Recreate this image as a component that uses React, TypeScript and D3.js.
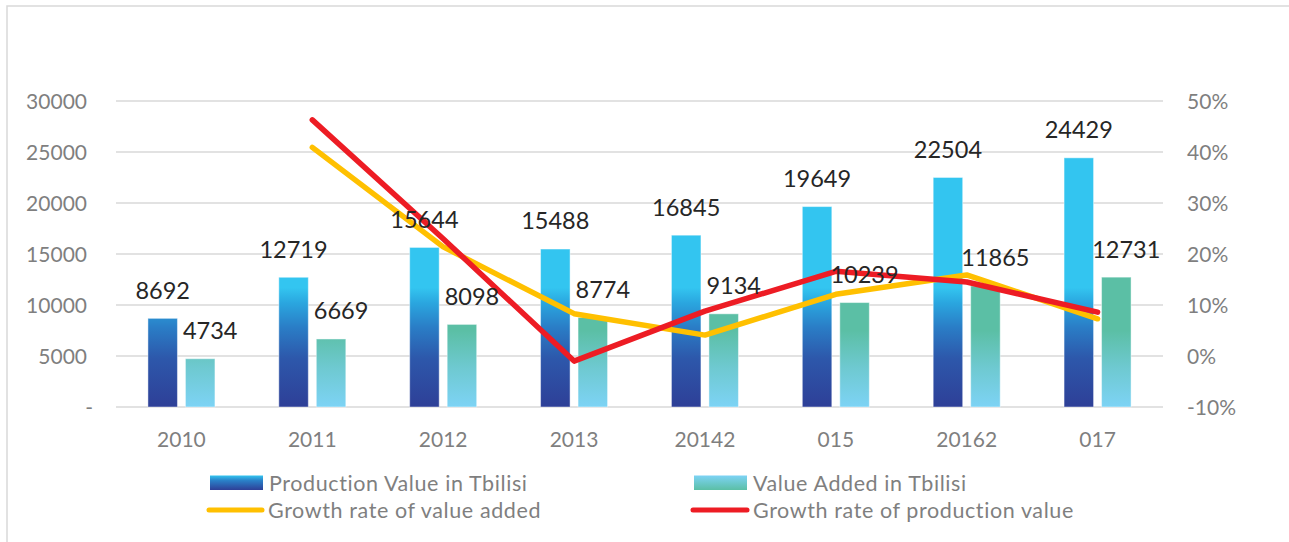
import { useMemo } from 'react'
import * as d3 from 'd3'

const years = ['2010', '2011', '2012', '2013', '20142', '015', '20162', '017']
const productionValue = [8692, 12719, 15644, 15488, 16845, 19649, 22504, 24429]
const valueAdded = [4734, 6669, 8098, 8774, 9134, 10239, 11865, 12731]
// growth rates in %, first year has none
const growthValueAdded = [null, 40.9, 21.4, 8.3, 4.1, 12.1, 15.9, 7.3]
const growthProduction = [null, 46.3, 23.0, -1.0, 8.8, 16.6, 14.5, 8.6]
const leftTicks = [0, 5000, 10000, 15000, 20000, 25000, 30000]
const rightTicks = [-10, 0, 10, 20, 30, 40, 50]

const W = 1289
const H = 542
const FONT = 'Lato, "Open Sans", sans-serif'
const GREY = '#7f7f7f'
const RED = '#ed1c24'
const YELLOW = '#ffc000'

export default function App() {
  const { x, sub, y, y2 } = useMemo(() => {
    const x = d3.scaleBand<string>().domain(years).range([116, 1163]).paddingInner(0.488).paddingOuter(0.244)
    const sub = d3.scaleBand<string>().domain(['p', 'v']).range([0, x.bandwidth()]).paddingInner(0.213)
    const y = d3.scaleLinear().domain([0, 30000]).range([407, 101])
    const y2 = d3.scaleLinear().domain([-10, 50]).range([407, 101])
    return { x, sub, y, y2 }
  }, [])

  const cx = (d: string) => (x(d) ?? 0) + x.bandwidth() / 2

  const lineGen = d3
    .line<[string, number | null]>()
    .defined((d) => d[1] != null)
    .x((d) => cx(d[0]))
    .y((d) => y2(d[1] as number))

  const pairs = (vals: (number | null)[]) => years.map((yr, i) => [yr, vals[i]] as [string, number | null])

  const bw = sub.bandwidth()

  return (
    <div style={{ position: 'fixed', left: 0, top: 0 }}>
      <svg width={W} height={H} style={{ display: 'block', fontFamily: FONT }}>
        <defs>
          {/* gradients span the plot area, not each bar */}
          <linearGradient id="gProd" gradientUnits="userSpaceOnUse" x1={0} x2={0} y1={y(0)} y2={y(30000)}>
            <stop offset="0" stopColor="#2e3f97" />
            <stop offset="0.16" stopColor="#2d58ab" />
            <stop offset="0.26" stopColor="#2a7dc6" />
            <stop offset="0.34" stopColor="#2aa6df" />
            <stop offset="0.39" stopColor="#33c5f0" />
            <stop offset="1" stopColor="#33c5f0" />
          </linearGradient>
          <linearGradient id="gVA" gradientUnits="userSpaceOnUse" x1={0} x2={0} y1={y(0)} y2={y(30000)}>
            <stop offset="0" stopColor="#7dd3f5" />
            <stop offset="0.13" stopColor="#6ec9d0" />
            <stop offset="0.25" stopColor="#5bbfa5" />
            <stop offset="1" stopColor="#5bbfa5" />
          </linearGradient>
          <linearGradient id="gProdLeg" x1={0} x2={0} y1={0} y2={1}>
            <stop offset="0" stopColor="#33c5f0" />
            <stop offset="0.35" stopColor="#2a80c8" />
            <stop offset="1" stopColor="#2e3f97" />
          </linearGradient>
          <linearGradient id="gVALeg" x1={0} x2={0} y1={0} y2={1}>
            <stop offset="0" stopColor="#7dd3f5" />
            <stop offset="1" stopColor="#5bbfa5" />
          </linearGradient>
        </defs>

        <rect width={W} height={H} fill="#fff" />
        <rect x={7} y={6} width={W + 20} height={H + 20} fill="none" stroke="#d9d9d9" strokeWidth={1.5} />

        {/* gridlines */}
        {leftTicks.map((t) => (
          <line key={t} x1={116} x2={1163} y1={y(t)} y2={y(t)} stroke="#d9d9d9" strokeWidth={1.5} />
        ))}

        {/* left axis */}
        {leftTicks.map((t) => (
          <text
            key={t}
            x={t === 0 ? 93 : 87}
            y={y(t)}
            dy="0.36em"
            textAnchor="end"
            fontSize={21}
            fill={GREY}
          >
            {t === 0 ? '-' : t}
          </text>
        ))}

        {/* right axis */}
        {rightTicks.map((t) => (
          <text key={t} x={1187} y={y2(t)} dy="0.36em" fontSize={21} fill={GREY}>
            {t}%
          </text>
        ))}

        {/* category labels */}
        {years.map((yr) => (
          <text key={yr} x={cx(yr)} y={439} dy="0.36em" textAnchor="middle" fontSize={21} fill={GREY}>
            {yr}
          </text>
        ))}

        {/* bars */}
        {years.map((yr, i) => {
          const x0 = x(yr) ?? 0
          const px = x0 + (sub('p') ?? 0)
          const vx = x0 + (sub('v') ?? 0)
          return (
            <g key={yr}>
              <rect
                x={px}
                y={y(productionValue[i])}
                width={bw}
                height={y(0) - y(productionValue[i])}
                fill="url(#gProd)"
                stroke="#ffffff"
                strokeOpacity={0.45}
                strokeWidth={1}
              />
              <rect
                x={vx}
                y={y(valueAdded[i])}
                width={bw}
                height={y(0) - y(valueAdded[i])}
                fill="url(#gVA)"
                stroke="#ffffff"
                strokeOpacity={0.45}
                strokeWidth={1}
              />
            </g>
          )
        })}

        {/* growth lines */}
        <path
          d={lineGen(pairs(growthValueAdded)) ?? ''}
          fill="none"
          stroke={YELLOW}
          strokeWidth={5.5}
          strokeLinecap="round"
          strokeLinejoin="round"
        />
        <path
          d={lineGen(pairs(growthProduction)) ?? ''}
          fill="none"
          stroke={RED}
          strokeWidth={5.5}
          strokeLinecap="round"
          strokeLinejoin="round"
        />

        {/* data labels */}
        {years.map((yr, i) => {
          const x0 = x(yr) ?? 0
          const px = x0 + (sub('p') ?? 0) + bw / 2
          const vx = x0 + (sub('v') ?? 0) + bw / 2 + 10
          return (
            <g key={yr} fontSize={23.5} fill="#262626" textAnchor="middle">
              <text x={px} y={y(productionValue[i]) - 28} dy="0.36em">
                {productionValue[i]}
              </text>
              <text x={vx} y={y(valueAdded[i]) - 28} dy="0.36em">
                {valueAdded[i]}
              </text>
            </g>
          )
        })}

        {/* legend */}
        <g fontSize={21.5} fill={GREY} letterSpacing={0.6}>
          <rect x={210} y={475.5} width={53} height={14.5} fill="url(#gProdLeg)" />
          <text x={269} y={483} dy="0.36em">
            Production Value in Tbilisi
          </text>
          <rect x={694} y={475.5} width={53} height={14.5} fill="url(#gVALeg)" />
          <text x={753} y={483} dy="0.36em">
            Value Added in Tbilisi
          </text>
          <line x1={209} x2={262} y1={510} y2={510} stroke={YELLOW} strokeWidth={5} strokeLinecap="round" />
          <text x={268} y={510} dy="0.36em">
            Growth rate of value added
          </text>
          <line x1={693} x2={747} y1={510} y2={510} stroke={RED} strokeWidth={5} strokeLinecap="round" />
          <text x={753} y={510} dy="0.36em">
            Growth rate of production value
          </text>
        </g>
      </svg>
    </div>
  )
}
